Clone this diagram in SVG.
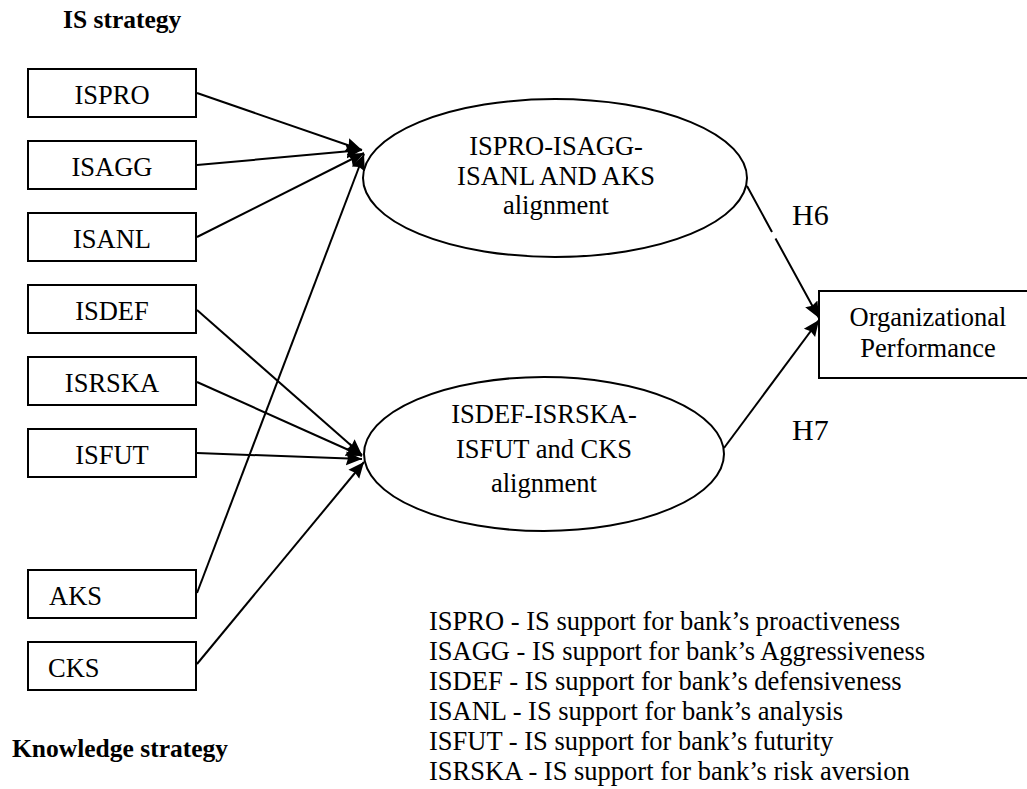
<svg xmlns="http://www.w3.org/2000/svg" width="1027" height="789" viewBox="0 0 1027 789">
<style>
.box{fill:#fff;stroke:#000;stroke-width:2}
.t{font-family:"Liberation Serif","Times New Roman",serif;font-size:26.5px;fill:#000}
.c{text-anchor:middle}
.b{font-weight:bold;font-size:25.5px}
.h{font-size:30px}
.conn{stroke:#000;stroke-width:2;fill:none;marker-end:url(#arr)}
</style>
<defs>
<marker id="arr" markerUnits="userSpaceOnUse" markerWidth="18" markerHeight="16" refX="16" refY="8" orient="auto" viewBox="0 0 18 16">
<path d="M0,1 L16,8 L0,15 L2,8 z" fill="#000"/>
</marker>
</defs>
<rect width="1027" height="789" fill="#fff"/>
<g id="title-is"><text class="t b" x="63" y="28">IS strategy</text></g>
<g id="title-ks"><text class="t b" x="12" y="757">Knowledge strategy</text></g>
<g id="ispro"><rect class="box" x="28" y="69" width="168" height="48"/><text class="t c" x="112" y="104">ISPRO</text></g>
<g id="isagg"><rect class="box" x="28" y="141" width="168" height="48"/><text class="t c" x="112" y="176">ISAGG</text></g>
<g id="isanl"><rect class="box" x="28" y="213" width="168" height="48"/><text class="t c" x="112" y="248">ISANL</text></g>
<g id="isdef"><rect class="box" x="28" y="285" width="168" height="48"/><text class="t c" x="112" y="320">ISDEF</text></g>
<g id="isrska"><rect class="box" x="28" y="357" width="168" height="48"/><text class="t c" x="112" y="392">ISRSKA</text></g>
<g id="isfut"><rect class="box" x="28" y="429" width="168" height="48"/><text class="t c" x="112" y="464">ISFUT</text></g>
<g id="aks"><rect class="box" x="28" y="570" width="168" height="48"/><text class="t" x="49" y="605">AKS</text></g>
<g id="cks"><rect class="box" x="28" y="642" width="168" height="48"/><text class="t" x="48" y="677">CKS</text></g>
<g id="align1"><ellipse class="box" cx="555" cy="178" rx="192" ry="79"/>
<text class="t c" x="556" y="155">ISPRO-ISAGG-</text>
<text class="t c" x="556" y="184.5">ISANL AND AKS</text>
<text class="t c" x="556" y="214">alignment</text></g>
<g id="align2"><ellipse class="box" cx="544" cy="454" rx="180" ry="77"/>
<text class="t c" x="544" y="423">ISDEF-ISRSKA-</text>
<text class="t c" x="544" y="458">ISFUT and CKS</text>
<text class="t c" x="544" y="492">alignment</text></g>
<g id="orgperf"><rect class="box" x="819" y="291" width="215" height="87"/>
<text class="t c" x="928" y="326">Organizational</text>
<text class="t c" x="928" y="357">Performance</text></g>
<g id="labels">
<text class="t h" x="792" y="225">H6</text>
<text class="t h" x="792" y="440">H7</text>
</g>
<g id="legend">
<text class="t" x="429" y="630">ISPRO - IS support for bank’s proactiveness</text>
<text class="t" x="429" y="660">ISAGG - IS support for bank’s Aggressiveness</text>
<text class="t" x="429" y="690">ISDEF - IS support for bank’s defensiveness</text>
<text class="t" x="429" y="720">ISANL - IS support for bank’s analysis</text>
<text class="t" x="429" y="750">ISFUT - IS support for bank’s futurity</text>
<text class="t" x="429" y="780">ISRSKA - IS support for bank’s risk aversion</text>
</g>
<g id="connectors">
<path class="conn" d="M197,93 L362,150"/>
<path class="conn" d="M197,165 L362,150"/>
<path class="conn" d="M197,237 L364,153"/>
<path class="conn" d="M197,593 L364,154"/>
<path class="conn" d="M197,310 L362,455"/>
<path class="conn" d="M197,382 L362,456"/>
<path class="conn" d="M197,453 L362,459"/>
<path class="conn" d="M197,664 L364,462"/>
<path class="conn" d="M747,186 L772,232 M775.5,238.5 L819,318"/>
<path class="conn" d="M724,448 L819,320"/>
</g>
</svg>
